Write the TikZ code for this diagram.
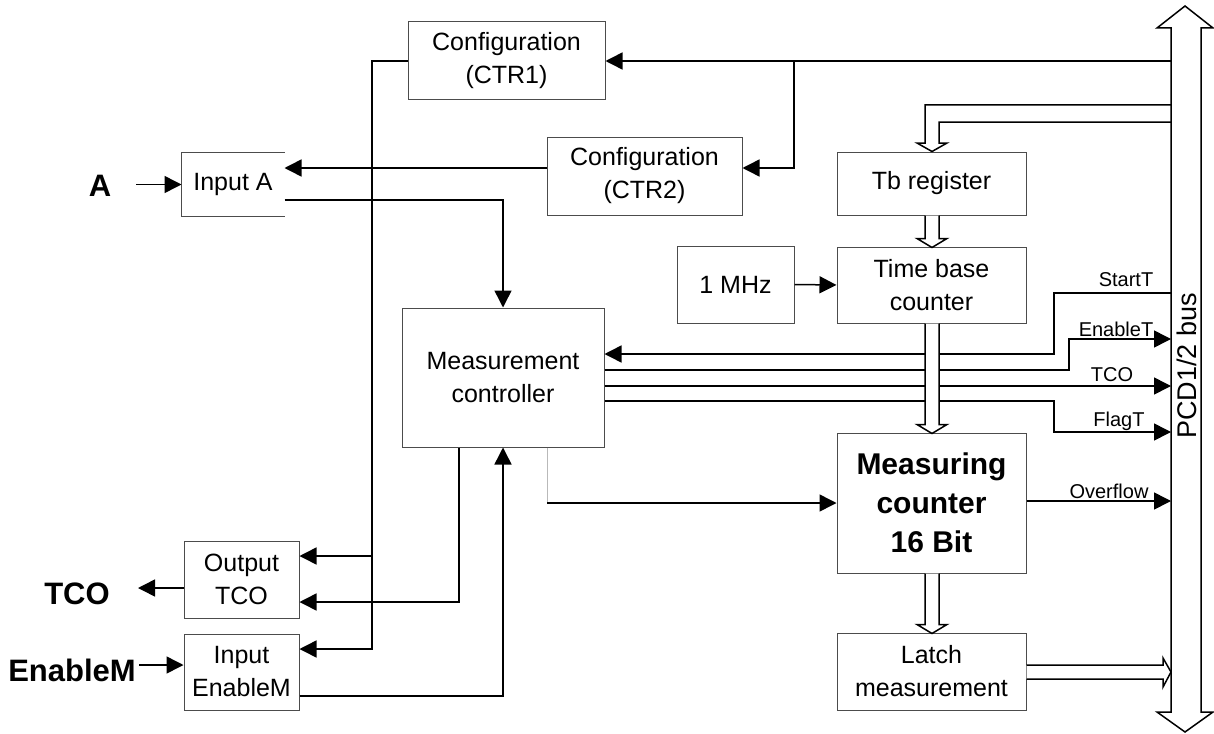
\documentclass[tikz,border=0pt]{standalone}
\usepackage{fontspec}
\setmainfont{Liberation Sans}
\usetikzlibrary{arrows.meta}
\begin{document}
\begin{tikzpicture}[x=1pt,y=-1pt,
 box/.style={draw=black!70,line width=1pt,fill=white,inner sep=0pt,align=center,font=\fontsize{25}{33}\selectfont},
 wire/.style={line width=1.5pt,line join=miter},
 arr/.style={wire,-{Triangle[length=17pt,width=17pt]}},
 sig/.style={inner sep=0pt,font=\fontsize{20}{24}\selectfont},
 big/.style={inner sep=0pt,font=\fontsize{31}{37}\selectfont\bfseries},
 hdown/.pic={\draw[wire,fill=white] (-7,0) -- (-7,#1-9) -- (-15,#1-9) -- (0,#1) -- (15,#1-9) -- (7,#1-9) -- (7,0);}
]
\useasboundingbox (0,0) rectangle (1214,733);

% bus
\draw[wire,fill=white] (1171,712) -- (1171,28) -- (1157,28) -- (1185,6) -- (1213,28) -- (1201,28) -- (1201,712) -- (1213,712) -- (1185,732) -- (1157,712) -- cycle;
\node[rotate=90,inner sep=0pt,font=\fontsize{27}{30}\selectfont] (bus) at (1187,366) {PCD1/2 bus};
\coordinate (busL) at (1171,0);

% boxes
\node[box,minimum width=197pt,minimum height=78pt] (ctr1) at (506.5,61) {Configuration\\(CTR1)};
\node[box,minimum width=195pt,minimum height=78pt] (ctr2) at (644.5,176) {Configuration\\(CTR2)};
\node[box,draw=none,minimum width=102pt,minimum height=63pt] (inA) at (233,184.5) {Input A};
\draw[draw=black!70,line width=1pt] (inA.north east) -- (inA.north west) -- (inA.south west) -- (inA.south east);
\node[box,minimum width=202pt,minimum height=139pt] (mc) at (503,377.5) {Measurement\\controller};
\node[box,minimum width=189pt,minimum height=63pt] (tb) at (931.5,183.5) {Tb register};
\node[box,minimum width=117pt,minimum height=77pt] (mhz) at (735.5,284.5) {1 MHz};
\node[box,minimum width=189pt,minimum height=76pt] (tbc) at (931.5,285) {Time base\\counter};
\node[box,minimum width=189pt,minimum height=140pt,font=\fontsize{30}{39}\selectfont\bfseries] (mcnt) at (931.5,503) {Measuring\\counter\\16 Bit};
\node[box,minimum width=189pt,minimum height=77pt] (latch) at (931.5,671.5) {Latch\\measurement};
\node[box,minimum width=115pt,minimum height=77pt] (outT) at (241.5,579.5) {Output\\TCO};
\node[box,minimum width=115pt,minimum height=76pt] (inE) at (241.5,672) {Input\\EnableM};

% outer labels
\node[big] (A) at (100,186) {A};
\node[big] (TCOl) at (77,594) {TCO};
\node[big] (EnM) at (72,670) {EnableM};

% signal labels
\node[sig] (lStartT) at (1126,280) {StartT};
\node[sig] (lEnableT) at (1116,329) {EnableT};
\node[sig] (lTCO) at (1112,375) {TCO};
\node[sig] (lFlagT) at (1119,421) {FlagT};
\node[sig] (lOvf) at (1109,491) {Overflow};

% configuration wiring
\coordinate (j1) at (794,61);
\draw[arr] (busL |- ctr1.east) -- (ctr1.east);
\draw[arr] (j1) |- ([yshift=8pt]ctr2.east);
\draw[arr] ([yshift=8pt]ctr2.west) -- (inA.east |- 0,168);
\draw[arr] (inA.east |- 0,200) -| (mc.north);
\draw[arr] ([xshift=25pt]A.east |- inA.west) -- (inA.west);

\coordinate (v1) at (372,556);
\draw[arr] (ctr1.west) -| (372,649) -- (inE.east |- 0,649);
\draw[arr] (v1) -- (outT.east |- v1);
\draw[arr] (mc.south -| 459,0) -- (459,602) -- (outT.east |- 0,602);
\draw[arr] (inE.east |- 0,696) -| (mc.south);
\draw[arr] (outT.west |- 0,588) -- (138,588);
\draw[arr] (139,665) -- (inE.west |- 0,665);

% measurement controller to counter
\draw[gray!55,line width=1pt] (mc.south -| 547,0) -- (547,503);
\draw[arr] (547,503) -- (mcnt.west);

% clock
\draw[arr] (mhz.east) -- (tbc.west);

% signals to / from bus
\draw[arr] (busL |- 0,293) -- (1054,293) -- (1054,354) -- (mc.east |- 0,354);
\draw[arr] (mc.east |- 0,370) -- (1069,370) -- (1069,339) -- (busL |- 0,339);
\draw[arr] (mc.east |- 0,386) -- (busL |- 0,386);
\draw[arr] (mc.east |- 0,401) -- (1054,401) -- (1054,432) -- (busL |- 0,432);
\draw[arr] (mcnt.east |- 0,501) -- (busL |- 0,501);

% hollow data arrows
\draw[wire] (busL |- 0,105) -- (925,105) -- (925,143) -- (917,143) -- (tb.north -| 932,0) -- (947,143) -- (939,143) -- (939,122) -- (busL |- 0,122);
\pic at (tb.south -| 932,0) {hdown=32};
\pic at (tbc.south -| 932,0) {hdown=110};
\pic at (mcnt.south -| 932,0) {hdown=60};
\draw[wire,fill=white] (latch.east |- 0,665) -- (1163,665) -- (1163,658) -- (busL |- 0,672) -- (1163,687) -- (1163,679) -- (latch.east |- 0,679);
\end{tikzpicture}
\end{document}
